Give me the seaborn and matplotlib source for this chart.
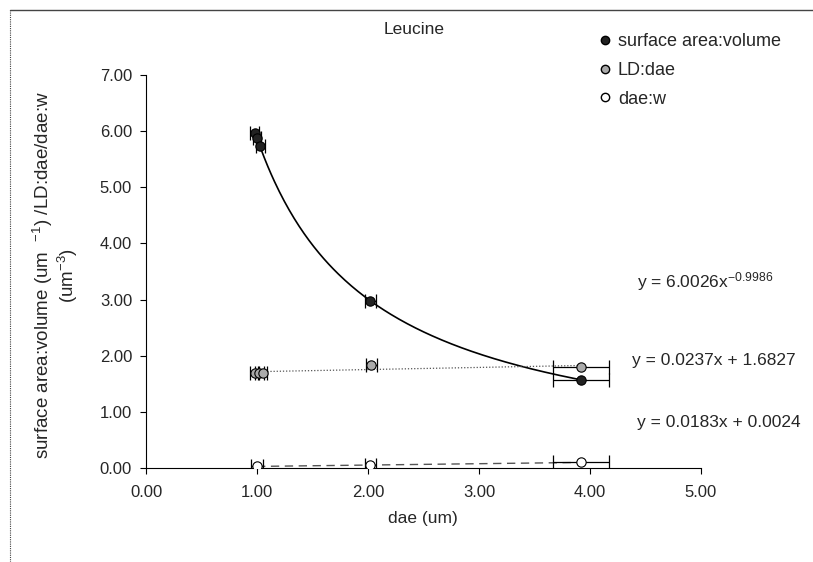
import matplotlib
import numpy as np
import pandas as pd

matplotlib.use("Agg")
import matplotlib.pyplot as plt
import seaborn as sns
from matplotlib.lines import Line2D

sns.set_theme(style="white")
plt.rcParams["font.family"] = ["Liberation Sans", "DejaVu Sans"]
plt.rcParams["mathtext.fontset"] = "custom"
plt.rcParams["mathtext.rm"] = "Liberation Sans"
plt.rcParams["mathtext.it"] = "Liberation Sans"

# values
sa_dae = [0.98, 1.00, 1.03, 2.02, 3.92]
sa_val = [5.97, 5.88, 5.73, 2.98, 1.57]
sa_err = [0.04, 0.04, 0.04, 0.05, 0.25]

ld_dae = [0.98, 1.02, 1.05, 2.03, 3.92]
ld_val = [1.70, 1.70, 1.70, 1.83, 1.80]
ld_err = [0.04, 0.04, 0.04, 0.05, 0.25]

w_dae = [1.00, 2.02, 3.92]
w_val = [0.03, 0.05, 0.10]
w_err = [0.05, 0.05, 0.25]

x_ticks = [0, 1, 2, 3, 4, 5]
y_ticks = [0, 1, 2, 3, 4, 5, 6, 7]

eq_sa = "y = 6.0026x$^{-0.9986}$"
eq_ld = "y = 0.0237x + 1.6827"
eq_w = "y = 0.0183x + 0.0024"


def trend_frame(xs, ys, power=False):
    xs = np.asarray(xs)
    ys = np.asarray(ys)
    grid = np.linspace(xs.min(), xs.max(), 200)
    if power:
        b, a = np.polyfit(np.log(xs), np.log(ys), 1)
        fit = np.exp(a) * grid ** b
    else:
        m, c = np.polyfit(xs, ys, 1)
        fit = m * grid + c
    return pd.DataFrame({"x": grid, "y": fit})


fig = plt.figure(figsize=(8.13, 5.62), dpi=100)
ax = fig.add_axes([146 / 813, 1 - 468 / 562, 555 / 813, 393 / 562])

# trendlines
sns.lineplot(data=trend_frame(sa_dae, sa_val, power=True), x="x", y="y", ax=ax,
             color="black", linewidth=1.2, zorder=2)
sns.lineplot(data=trend_frame(ld_dae, ld_val), x="x", y="y", ax=ax,
             color="#555555", linewidth=0.9, linestyle=(0, (1, 1.5)), zorder=2)
sns.lineplot(data=trend_frame(w_dae, w_val), x="x", y="y", ax=ax,
             color="#555555", linewidth=1.0, linestyle=(0, (6, 4)), zorder=2)

# horizontal error bars
for xs, ys, errs in [(sa_dae, sa_val, sa_err), (ld_dae, ld_val, ld_err), (w_dae, w_val, w_err)]:
    ax.errorbar(xs, ys, xerr=errs, fmt="none", ecolor="black", elinewidth=0.9,
                capsize=5, capthick=0.9, zorder=3)

# markers
sns.scatterplot(x=sa_dae, y=sa_val, ax=ax, color="#222222", edgecolor="black",
                s=45, marker="o", zorder=4, linewidth=0.8)
sns.scatterplot(x=ld_dae, y=ld_val, ax=ax, color="#aaaaaa", edgecolor="black",
                s=45, marker="o", zorder=4, linewidth=0.8)
sns.scatterplot(x=w_dae, y=w_val, ax=ax, color="white", edgecolor="black",
                s=45, marker="o", zorder=4, linewidth=0.8)

ax.set_xlim(0, 5)
ax.set_ylim(0, 7)
ax.set_xticks(x_ticks)
ax.set_yticks(y_ticks)
ax.set_xticklabels([f"{v:.2f}" for v in x_ticks], fontsize=12)
ax.set_yticklabels([f"{v:.2f}" for v in y_ticks], fontsize=12)
ax.tick_params(axis="both", which="major", direction="out", length=4, width=0.8,
               color="black", bottom=True, left=True)
ax.tick_params(axis="x", pad=8)
ax.tick_params(axis="y", pad=6)
for side in ["top", "right"]:
    ax.spines[side].set_visible(False)
for side in ["left", "bottom"]:
    ax.spines[side].set_color("black")
    ax.spines[side].set_linewidth(0.8)
ax.set_xlabel("")
ax.set_ylabel("")
ax.patch.set_alpha(0)

fig.text(423 / 813, 1 - 518 / 562, "dae (um)", ha="center", va="center", fontsize=12.5)
fig.text(55 / 813, 1 - 275 / 562,
         "surface area:volume (um  $^{-1}$) /LD:dae/dae:w\n(um$^{-3}$)",
         ha="center", va="center", rotation=90, fontsize=13.5, linespacing=1.05)

fig.text(414 / 813, 1 - 30 / 562, "Leucine", ha="center", va="center", fontsize=12.5)

fig.text(637 / 813, 1 - 282 / 562, eq_sa, ha="left", va="center", fontsize=12.5)
fig.text(632 / 813, 1 - 360 / 562, eq_ld, ha="left", va="center", fontsize=12.5)
fig.text(637 / 813, 1 - 423 / 562, eq_w, ha="left", va="center", fontsize=12.5)

handles = [
    Line2D([], [], linestyle="none", marker="o", markersize=6, markerfacecolor="#222222",
           markeredgecolor="black"),
    Line2D([], [], linestyle="none", marker="o", markersize=6, markerfacecolor="#aaaaaa",
           markeredgecolor="black"),
    Line2D([], [], linestyle="none", marker="o", markersize=6, markerfacecolor="white",
           markeredgecolor="black"),
]
labels = ["surface area:volume", "LD:dae", "dae:w"]
fig.legend(handles, labels, loc="upper left", bbox_to_anchor=(590 / 813, 1 - 26 / 562),
           frameon=False, fontsize=13, handletextpad=0.25, handlelength=0.9,
           labelspacing=0.65, borderaxespad=0)

# outer chart frame
fig.add_artist(Line2D([10 / 813, 1.0], [1 - 10 / 562] * 2, color="#444444", linewidth=1.0))
fig.add_artist(Line2D([10 / 813] * 2, [0.0, 1 - 10 / 562], color="#444444", linewidth=0.8,
                      linestyle=(0, (1, 1))))

fig.savefig("out.png", dpi=100)
